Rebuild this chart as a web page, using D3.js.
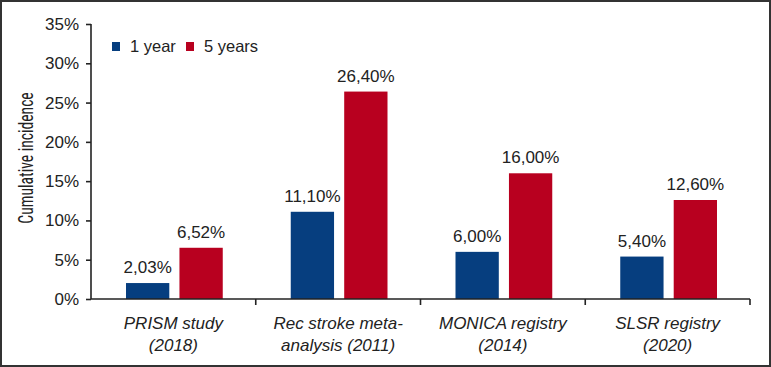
<!DOCTYPE html>
<html>
<head>
<meta charset="utf-8">
<script src="https://cdn.jsdelivr.net/npm/d3@7"></script>
<style>
  body { margin: 0; background: #fff; }
  svg { display: block; font-family: "Liberation Sans", Arial, sans-serif; }
  .axis text { font-size: 17px; fill: #222; }
  .axis line, .axis path { stroke: #222; stroke-width: 1.6; }
</style>
</head>
<body>
<div id="view"></div>
<script>
// ---------- Data ----------
const studies = [
  ["PRISM study", "(2018)"],
  ["Rec stroke meta-", "analysis (2011)"],
  ["MONICA registry", "(2014)"],
  ["SLSR registry", "(2020)"]
];
const series = ["1 year", "5 years"];
const oneYear = [2.03, 11.10, 6.00, 5.40];
const fiveYears = [6.52, 26.40, 16.00, 12.60];
const yTicks = [0, 5, 10, 15, 20, 25, 30, 35];

const COLORS = { "1 year": "#063e7f", "5 years": "#b8001f" };
const fmtPct = v => d3.format(".2f")(v).replace(".", ",") + "%";

// ---------- Layout ----------
const W = 771, H = 367;
const M = { t: 24, r: 21, b: 68, l: 91 };
const w = W - M.l - M.r, h = H - M.t - M.b;

const svg = d3.select("#view").append("svg").attr("width", W).attr("height", H);

// frame
svg.append("rect")
  .attr("x", 1).attr("y", 1).attr("width", W - 2).attr("height", H - 2)
  .attr("fill", "none").attr("stroke", "#333").attr("stroke-width", 2);

const g = svg.append("g").attr("transform", `translate(${M.l},${M.t})`);

const cats = studies.map((d, i) => i);
const x = d3.scaleBand().domain(cats).range([0, w]).padding(0);
// bars sit in the middle of each band, with a small gap between them
const xs = d3.scaleBand().domain(series).range([35, x.bandwidth() - 33]).paddingInner(0.19).paddingOuter(0);
const y = d3.scaleLinear().domain([0, 35]).range([h, 0]);

// ---------- Bars ----------
const rows = [];
cats.forEach(i => {
  rows.push({ i, s: "1 year", v: oneYear[i] });
  rows.push({ i, s: "5 years", v: fiveYears[i] });
});

g.selectAll("rect.bar")
  .data(rows)
  .join("rect")
  .attr("class", "bar")
  .attr("x", d => x(d.i) + xs(d.s))
  .attr("y", d => y(d.v))
  .attr("width", xs.bandwidth())
  .attr("height", d => h - y(d.v))
  .attr("fill", d => COLORS[d.s]);

g.selectAll("text.val")
  .data(rows)
  .join("text")
  .attr("class", "val")
  .attr("x", d => x(d.i) + xs(d.s) + xs.bandwidth() / 2)
  .attr("y", d => y(d.v) - 10)
  .attr("text-anchor", "middle")
  .style("font-size", "17px")
  .style("fill", "#222")
  .text(d => fmtPct(d.v));

// ---------- Axes ----------
const yAxis = g.append("g")
  .attr("class", "axis")
  .call(d3.axisLeft(y).tickValues(yTicks).tickFormat(d => d + "%").tickSize(5).tickPadding(7));
yAxis.select(".domain").attr("d", `M0,${y(35)}V${h}`);

// x axis: baseline plus boundary ticks
const xAxis = g.append("g").attr("class", "axis").attr("transform", `translate(0,${h})`);
xAxis.append("path").attr("d", `M0,0H${w}`);
xAxis.selectAll("line.bt")
  .data(cats.slice(1).concat([cats.length]))
  .join("line")
  .attr("class", "bt")
  .attr("x1", d => d * x.bandwidth()).attr("x2", d => d * x.bandwidth())
  .attr("y1", 0).attr("y2", 6);

const lab = xAxis.selectAll("text.cat")
  .data(studies)
  .join("text")
  .attr("class", "cat")
  .attr("text-anchor", "middle")
  .style("font-style", "italic")
  .attr("transform", (d, i) => `translate(${x(i) + x.bandwidth() / 2},0)`);
lab.selectAll("tspan")
  .data(d => d)
  .join("tspan")
  .attr("x", 0)
  .attr("y", (d, j) => 30 + j * 22)
  .text(d => d);

// y title (condensed, tall glyphs)
svg.append("text")
  .attr("transform", `translate(33,158) rotate(-90) scale(0.78,1)`)
  .attr("text-anchor", "middle")
  .style("font-family", "'Liberation Sans Narrow', 'Roboto Condensed', sans-serif")
  .style("font-size", "20px")
  .style("fill", "#222")
  .text("Cumulative incidence");

// ---------- Legend ----------
const leg = svg.append("g").attr("transform", "translate(112,42)");
const items = [{ s: "1 year", dx: 0 }, { s: "5 years", dx: 74 }];
items.forEach(it => {
  const gi = leg.append("g").attr("transform", `translate(${it.dx},0)`);
  gi.append("rect").attr("width", 8).attr("height", 9).attr("fill", COLORS[it.s]);
  gi.append("text").attr("x", 18).attr("y", 10).style("font-size", "16.5px").style("fill", "#222").text(it.s);
});
</script>
</body>
</html>
